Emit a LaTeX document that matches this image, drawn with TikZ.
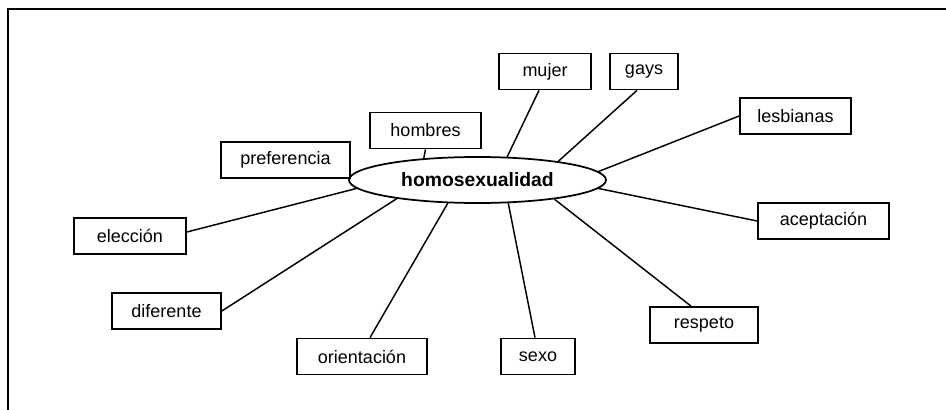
\documentclass[tikz,border=0pt]{standalone}
\usepackage{fontspec}
\setmainfont{Liberation Sans}
\usetikzlibrary{shapes.geometric}
\begin{document}
\begin{tikzpicture}[x=0.75pt,y=-0.75pt,
  term/.style={draw, line width=1.3pt, inner sep=0pt, minimum height=27pt,
    font=\fontsize{13.5}{16}\selectfont},
  wd/.style={minimum width=#1*0.75pt},
  link/.style={line width=1.1pt},
  hub/.style={draw, ellipse, line width=1.3pt, inner sep=0pt,
    minimum width=192.75pt, minimum height=34.5pt,
    font=\fontsize{14.5}{16}\selectfont\bfseries},
  frame/.style={line width=1.6pt}]
\useasboundingbox (0,0) rectangle (946,410);
\clip (0,0) rectangle (946,410);

% open frame along the top and the left
\coordinate (fbl) at (8,420);
\coordinate (ftl) at (8,9);
\coordinate (ftr) at (960,9);
\draw[frame] (fbl) -- (ftl) -- (ftr);

% central concept
\node[hub] (h) at (477.5,180) {homosexualidad};

% surrounding terms
\node[term, wd=92]  (mu)  at (545,71.5)   {mujer};
\node[term, wd=68]  (ga)  at (644,71.5)   {gays};
\node[term, wd=111] (les) at (795.5,116)  {lesbianas};
\node[term, wd=111] (hom) at (425.5,130.5){hombres};
\node[term, wd=129] (pre) at (285.5,160)  {preferencia};
\node[term, wd=112] (el)  at (130,236)    {elección};
\node[term, wd=131] (ac)  at (823.5,221)  {aceptación};
\node[term, wd=109] (di)  at (166.5,311)  {diferente};
\node[term, wd=108] (re)  at (704,325)    {respeto};
\node[term, wd=130] (ori) at (362,356.5)  {orientación};
\node[term, wd=74]  (se)  at (538,356.5)  {sexo};

% connectors to the ellipse border
\draw[link] ([xshift=-4.5pt]mu.south) -- (h.38.2);
\draw[link] ([xshift=-5.25pt]ga.south) -- (h.13.1);
\draw[link] (les.west) -- (h.4.5);
\draw[link] (hom.south) -- (h.158);
\draw[link] ([yshift=3pt]el.east) -- (h.184.8);
\draw[link] (ac.west) -- (h.356.5);
\draw[link] (di.east) -- (h.193.6);
\draw[link] ([xshift=-9.75pt]re.north) -- (h.346.7);
\draw[link] ([xshift=6pt]ori.north) -- (h.218.2);
\draw[link] ([xshift=-2.25pt]se.north) -- (h.323.8);
\end{tikzpicture}
\end{document}
